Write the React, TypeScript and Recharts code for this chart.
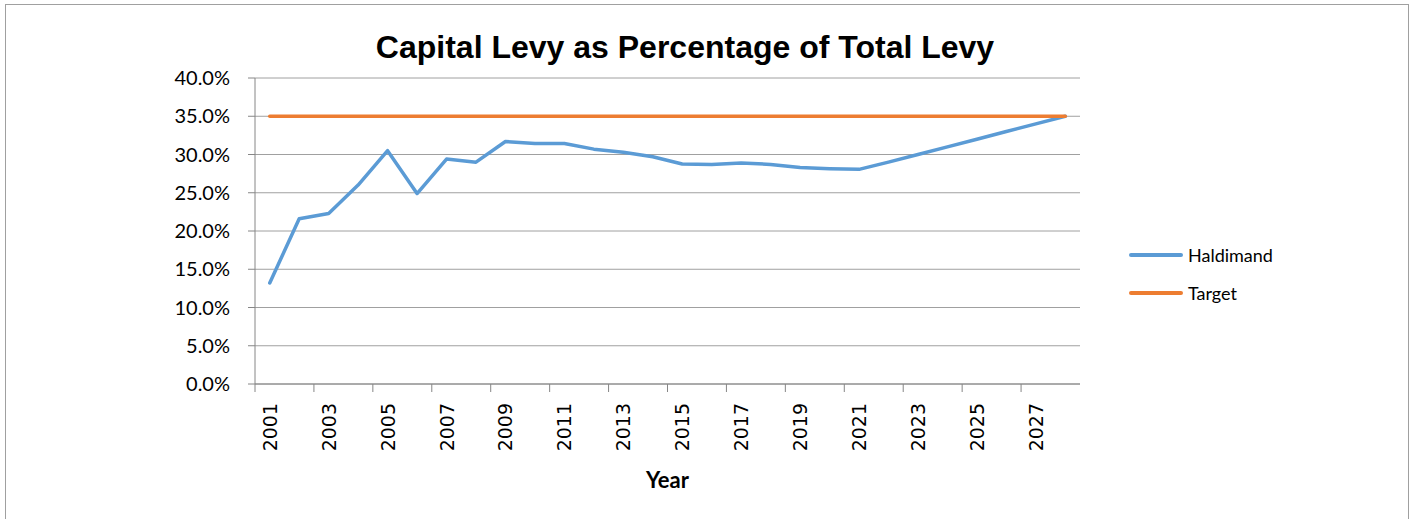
import { LineChart, Line, XAxis, YAxis, CartesianGrid } from 'recharts';

const YEARS = [
  '2001', '2002', '2003', '2004', '2005', '2006', '2007', '2008', '2009', '2010',
  '2011', '2012', '2013', '2014', '2015', '2016', '2017', '2018', '2019', '2020',
  '2021', '2022', '2023', '2024', '2025', '2026', '2027', '2028',
];

// capital levy share (%) per year
const HALDIMAND = [
  13.2, 21.6, 22.3, 26.0, 30.5, 24.9, 29.4, 29.0, 31.7, 31.45,
  31.45, 30.7, 30.3, 29.7, 28.76, 28.7, 28.9, 28.7, 28.3, 28.15,
  28.06, 29.0, 30.0, 31.0, 32.0, 33.0, 34.0, 35.0,
];

const TARGET = [
  35, 35, 35, 35, 35, 35, 35, 35, 35, 35,
  35, 35, 35, 35, 35, 35, 35, 35, 35, 35,
  35, 35, 35, 35, 35, 35, 35, 35,
];

const Y_TICKS = [0, 5, 10, 15, 20, 25, 30, 35, 40];

const CHART_W = 1402;
const CHART_H = 514;
const MARGIN = { top: 73, right: 328, left: 169, bottom: 0 };
const Y_AXIS_W = 80;
const PLOT_W = CHART_W - MARGIN.left - MARGIN.right - Y_AXIS_W;
const HALF_BAND = PLOT_W / YEARS.length / 2;

const AXIS_COLOR = '#868686';
const BLUE = '#5b9bd5';
const ORANGE = '#ed7d31';

const data = YEARS.map((year, i) => ({
  year,
  haldimand: HALDIMAND[i],
  target: TARGET[i],
}));

function YearTick(props: any) {
  const { x, y, payload, index } = props;
  const axisY = y - 19;
  const isLast = index === YEARS.length - 2;
  return (
    <g>
      <line x1={x - HALF_BAND} x2={x - HALF_BAND} y1={axisY} y2={axisY + 8} stroke={AXIS_COLOR} />
      {isLast && (
        <line
          x1={x + 3 * HALF_BAND}
          x2={x + 3 * HALF_BAND}
          y1={axisY}
          y2={axisY + 8}
          stroke={AXIS_COLOR}
        />
      )}
      <text
        transform={`translate(${x},${y}) rotate(-90)`}
        textAnchor="end"
        dominantBaseline="central"
        fontFamily="DejaVu Sans"
        fontSize={19}
        fill="#000"
      >
        {payload.value}
      </text>
    </g>
  );
}

function LegendRow({ color, label, top }: { color: string; label: string; top: number }) {
  return (
    <div
      style={{
        position: 'absolute',
        left: 1123,
        top,
        height: 20,
        display: 'flex',
        alignItems: 'center',
        fontFamily: 'Lato',
        fontSize: 18,
        color: '#000',
      }}
    >
      <div style={{ width: 54, height: 4, borderRadius: 2, background: color, marginRight: 5 }} />
      <span>{label}</span>
    </div>
  );
}

export default function App() {
  return (
    <div
      style={{
        position: 'absolute',
        left: 5,
        top: 4,
        width: CHART_W,
        height: 520,
        border: '1px solid #a0a0a0',
        background: '#fff',
      }}
    >
      <div
        style={{
          position: 'absolute',
          left: 679,
          top: 26,
          transform: 'translateX(-50%)',
          whiteSpace: 'nowrap',
          fontFamily: 'Liberation Sans',
          fontWeight: 'bold',
          fontSize: 32,
          lineHeight: '32px',
          color: '#000',
        }}
      >
        Capital Levy as Percentage of Total Levy
      </div>
      <LineChart width={CHART_W} height={CHART_H} data={data} margin={MARGIN}>
        <CartesianGrid vertical={false} stroke="#a0a0a0" />
        <XAxis
          dataKey="year"
          interval={1}
          padding={{ left: HALF_BAND, right: HALF_BAND }}
          tickLine={false}
          tickSize={8}
          tickMargin={11}
          axisLine={{ stroke: AXIS_COLOR }}
          height={135}
          tick={YearTick}
          label={{
            value: 'Year',
            position: 'insideBottom',
            offset: 31,
            fontFamily: 'Lato',
            fontWeight: 'bold',
            fontSize: 22,
            fill: '#000',
          }}
        />
        <YAxis
          width={Y_AXIS_W}
          domain={[0, 40]}
          ticks={Y_TICKS}
          tickFormatter={(v: number) => `${v.toFixed(1)}%`}
          tickSize={7}
          tickMargin={18}
          tickLine={{ stroke: AXIS_COLOR }}
          axisLine={{ stroke: AXIS_COLOR }}
          tick={{ fontFamily: 'Lato', fontSize: 20, fill: '#000' }}
        />
        <Line
          type="linear"
          dataKey="haldimand"
          name="Haldimand"
          stroke={BLUE}
          strokeWidth={3.5}
          strokeLinecap="round"
          strokeLinejoin="round"
          dot={false}
          activeDot={false}
          isAnimationActive={false}
        />
        <Line
          type="linear"
          dataKey="target"
          name="Target"
          stroke={ORANGE}
          strokeWidth={3.5}
          strokeLinecap="round"
          dot={false}
          activeDot={false}
          isAnimationActive={false}
        />
      </LineChart>
      <LegendRow color={BLUE} label="Haldimand" top={240} />
      <LegendRow color={ORANGE} label="Target" top={278} />
    </div>
  );
}
